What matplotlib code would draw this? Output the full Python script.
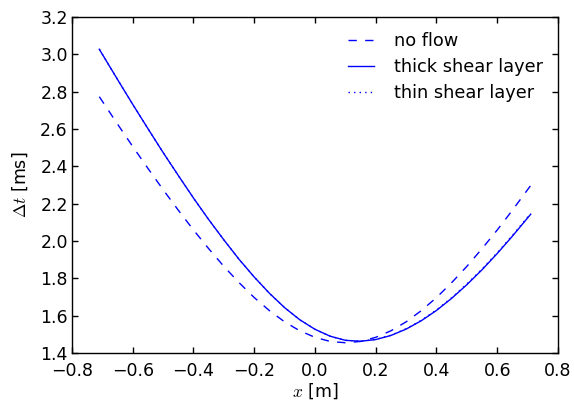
import matplotlib
matplotlib.use("Agg")
import matplotlib.pyplot as plt

x = [-0.71, -0.65, -0.60, -0.55, -0.50, -0.45, -0.40, -0.35, -0.30, -0.25,
     -0.20, -0.15, -0.10, -0.05, 0.00, 0.05, 0.10, 0.15, 0.20, 0.25,
     0.30, 0.35, 0.40, 0.45, 0.50, 0.55, 0.60, 0.65, 0.71]

no_flow = [2.773, 2.626, 2.506, 2.389, 2.275, 2.165, 2.059, 1.959, 1.864, 1.777,
           1.697, 1.627, 1.567, 1.519, 1.484, 1.462, 1.455, 1.462, 1.484, 1.519,
           1.567, 1.627, 1.697, 1.777, 1.864, 1.959, 2.059, 2.165, 2.297]

thick = [3.027, 2.865, 2.732, 2.602, 2.474, 2.351, 2.230, 2.115, 2.006, 1.902,
         1.807, 1.720, 1.643, 1.578, 1.527, 1.490, 1.468, 1.463, 1.472, 1.494,
         1.528, 1.573, 1.628, 1.693, 1.766, 1.846, 1.933, 2.026, 2.143]

thin = [3.027, 2.865, 2.732, 2.602, 2.474, 2.351, 2.230, 2.115, 2.006, 1.902,
        1.807, 1.720, 1.643, 1.578, 1.527, 1.490, 1.468, 1.463, 1.473, 1.495,
        1.530, 1.575, 1.631, 1.696, 1.770, 1.850, 1.937, 2.030, 2.148]

plt.rcParams['mathtext.fontset'] = 'cm'
plt.rcParams['font.size'] = 12.5

fig = plt.figure(figsize=(5.74, 4.04), dpi=100)
ax = fig.add_axes([0.1254, 0.1262, 0.8467, 0.8318])

ax.plot(x, no_flow, color='blue', linestyle=(0, (6, 6)), lw=1.0, label='no flow')
ax.plot(x, thick, color='blue', linestyle='-', lw=1.0, label='thick shear layer')
ax.plot(x, thin, color='blue', linestyle=(0, (1, 3)), lw=1.0, label='thin shear layer')

ax.set_xlim(-0.8, 0.8)
ax.set_ylim(1.4, 3.2)
ax.set_xticks([-0.8, -0.6, -0.4, -0.2, 0.0, 0.2, 0.4, 0.6, 0.8])
ax.set_yticks([1.4, 1.6, 1.8, 2.0, 2.2, 2.4, 2.6, 2.8, 3.0, 3.2])
ax.tick_params(direction='in', top=True, right=True, length=4, width=1)
ax.tick_params(axis='y', pad=3)
ax.tick_params(axis='x', pad=6.5)
for s in ax.spines.values():
    s.set_linewidth(1.0)

ax.set_xlabel(r'$x$ [m]', labelpad=1)
ax.set_ylabel(r'$\Delta t$ [ms]', labelpad=7)

ax.legend(loc='upper right', frameon=False, handlelength=1.5, handletextpad=1.1,
          fontsize=12.8, borderaxespad=0.45, labelspacing=0.45)

fig.savefig('out.png', dpi=100, facecolor='white')
